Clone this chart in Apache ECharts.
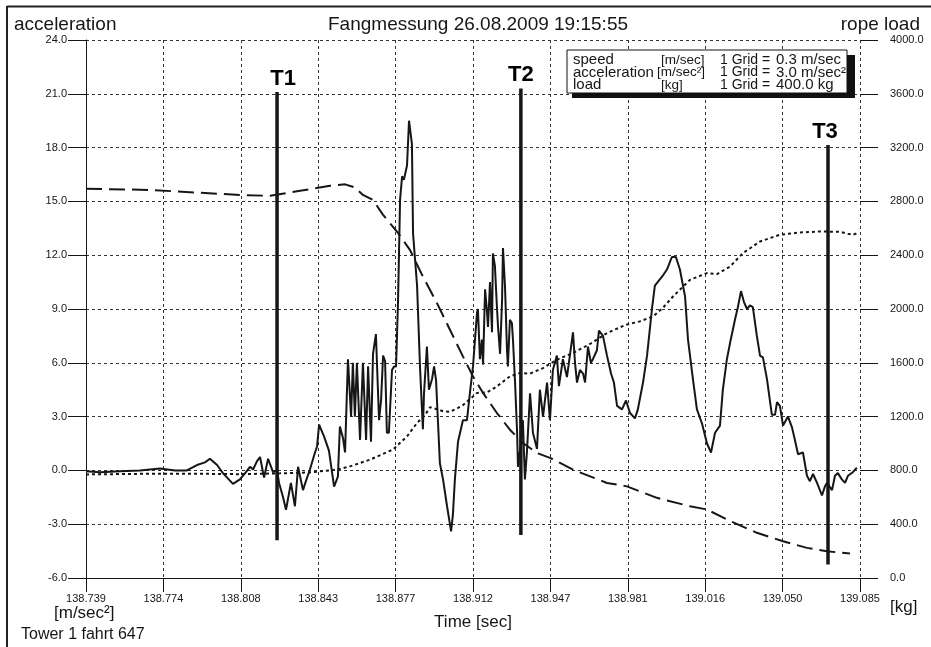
<!DOCTYPE html>
<html><head><meta charset="utf-8">
<script src="https://cdn.jsdelivr.net/npm/echarts@6/dist/echarts.min.js"></script>
<style>html,body{margin:0;padding:0;background:#fff}#c{width:931px;height:647px}</style>
</head><body><div id="c"></div>
<script>
// time offsets are milliseconds after T0 (seconds)
const T0 = 138.739;
const timeTickLabels = ['138.739','138.774','138.808','138.843','138.877','138.912','138.947','138.981','139.016','139.050','139.085'];
const accelTicks = [-6,-3,0,3,6,9,12,15,18,21,24];
const loadTicks = [0,400,800,1200,1600,2000,2400,2800,3200,3600,4000];

const accelMs = [0,6.3,15.2,24.1,33.1,39.8,45.1,49.6,53.2,55.4,58.6,61.2,65.7,68.8,71.5,73.3,74.7,76.4,77.8,79.6,81.4,83.6,85.4,86.3,88.1,89.4,91.6,93.4,94.8,97.0,98.3,100.1,101.9,103.3,104.2,106.4,108.6,110.9,112.6,113.5,114.9,115.8,117.1,118.5,119.3,120.2,121.1,122.5,123.8,125.2,126.1,127.4,128.3,129.6,131.0,131.9,132.8,133.7,134.5,135.4,136.8,137.7,138.6,139.5,140.4,141.3,142.1,143.5,144.4,145.7,146.2,148.0,149.3,150.6,151.1,152.4,153.3,154.7,155.6,156.5,156.9,158.2,159.6,161.4,163.2,164.0,164.9,166.3,168.5,170.3,171.6,173.0,174.8,175.2,176.1,177.0,177.5,178.4,179.3,179.7,180.6,181.5,181.9,182.8,183.7,184.2,185.1,186.0,186.4,187.3,188.2,188.6,189.5,190.4,190.9,191.8,192.7,193.1,194.4,195.3,196.2,197.1,198.5,199.8,201.6,202.9,204.3,206.1,207.4,208.7,210.5,211.4,213.2,215.0,216.3,217.7,218.6,219.5,220.8,222.2,223.1,224.4,225.7,226.6,228.4,229.3,231.1,232.9,234.7,236.0,237.4,239.6,241.4,243.2,245.4,246.7,249.0,250.8,253.0,254.3,257.5,259.7,261.9,263.7,265.5,267.8,269.1,271.3,273.1,275.4,277.6,279.4,281.2,283.4,284.7,286.5,287.9,290.1,291.4,292.8,294.1,295.5,296.8,298.1,299.9,301.3,302.6,304.4,306.6,308.0,308.9,310.2,311.6,313.8,315.6,316.9,318.3,320.5,322.3,323.6,325.0,326.8,329.0,330.3,331.2,333.5,334.8,336.1,337.9,339.3,340.6,342.8,344.6];
const accelValue = [-0.05,-0.1,-0.05,0.0,0.1,0.0,0.0,0.3,0.45,0.65,0.3,-0.15,-0.75,-0.5,-0.1,0.2,0.05,0.5,0.75,-0.4,0.65,-0.1,0.0,-0.7,-1.5,-2.2,-0.7,-2.0,0.2,-1.1,-0.6,0.05,0.8,1.35,2.55,1.9,1.1,-0.9,-0.35,2.45,1.8,1.0,6.2,3.0,6.0,3.0,6.0,1.7,6.0,1.7,5.8,1.6,6.5,7.6,2.8,3.9,6.4,6.1,2.1,2.1,5.6,5.8,5.8,9.5,15.1,16.4,16.2,17.0,19.5,18.2,13.2,10.3,5.8,2.3,4.3,6.9,4.5,5.1,5.8,5.0,3.9,0.4,-0.5,-2.0,-3.4,-2.5,-0.5,1.6,2.8,2.8,4.3,5.8,8.8,9.0,6.2,7.3,5.9,10.1,8.8,8.0,10.5,7.7,12.1,11.4,9.1,8.0,6.5,9.5,12.4,10.3,6.7,5.8,8.4,8.2,7.2,4.9,2.2,0.2,1.5,2.8,-0.5,1.0,4.3,2.1,1.2,4.5,3.0,4.9,2.8,5.6,6.4,4.7,6.2,5.2,6.4,7.7,6.0,4.9,5.6,5.4,4.9,6.9,6.0,6.2,6.7,7.8,7.5,6.4,5.4,4.9,3.6,3.4,3.9,3.2,2.9,3.4,4.9,6.4,9.0,10.3,10.8,11.2,11.9,11.9,11.2,9.7,7.3,5.1,3.4,2.6,1.5,1.0,2.1,2.5,4.5,6.2,7.1,8.4,9.1,10.0,9.4,9.0,9.2,9.1,7.5,6.4,6.3,5.1,3.1,3.1,3.8,3.6,2.5,3.0,2.4,1.7,0.9,1.0,-0.3,-0.6,-0.2,-0.7,-1.4,-0.9,-0.7,-1.1,-0.3,-0.15,-0.5,-0.7,-0.3,-0.1,0.15];

const speedMs = [0,28.6,51.0,68.8,82.3,95.7,109.1,115.8,120.2,123.8,128.3,132.8,139.0,144.8,150.6,156.9,162.7,168.5,173.0,177.5,183.7,189.5,195.3,201.6,207.4,211.9,217.7,232.9,241.8,255.2,270.0,277.6,286.5,299.9,311.6,322.3,331.2,341.5];
const speedValue = [2.170,2.164,2.148,2.136,2.131,2.159,2.187,2.195,2.178,2.136,2.108,2.025,1.932,1.830,1.681,1.533,1.384,1.236,1.124,1.032,0.920,0.827,0.753,0.697,0.670,0.642,0.604,0.530,0.511,0.447,0.400,0.382,0.326,0.252,0.205,0.168,0.149,0.136];

const loadMs = [0,28.6,51.0,68.8,86.7,100.1,112.2,118.0,127.0,137.2,143.5,148.0,151.5,153.8,156.9,159.6,162.7,166.3,168.5,174.8,179.3,183.7,189.5,194.0,198.5,204.3,210.5,217.7,225.3,232.9,240.9,247.6,253.5,258.0,262.4,270.0,277.6,282.1,287.9,293.7,301.3,310.2,319.1,328.1,337.0,340.6,342.8,345.1];
const loadValue = [770,775,775,772,778,785,806,830,880,955,1053,1153,1210,1270,1255,1240,1235,1265,1285,1376,1380,1425,1499,1524,1520,1561,1623,1673,1740,1821,1880,1908,1945,2010,2093,2217,2267,2260,2316,2416,2502,2552,2569,2576,2574,2560,2552,2565];

const markerNames = ['T1','T2','T3'];
const markerMs = [85.4,194.4,331.7];
const markerTop = [21.1,21.3,18.15];
const markerBottom = [-3.9,-3.6,-5.25];

const legendNames = ['speed','acceleration','load'];
const legendUnits = ['[m/sec]','[m/sec\u00B2]','[kg]'];
const legendGrid = ['0.3 m/sec','3.0 m/sec\u00B2','400.0 kg'];

// ---- styles ----
const INK = '#161616';
const SPAN = 346, STEP = 34.6;
const markerLabelDx = [6, 0, -3];
const gridDash = {color:'#333', width:1, type:[3,3]};
const FONT = 'Liberation Sans, Arial, sans-serif';

const zip = (a,b) => a.map((v,i)=>[v,b[i]]);

const markerSeries = markerNames.map((n,i)=>({
  type:'line', yAxisIndex:0, symbol:'none', silent:true, z:5,
  lineStyle:{color:INK, width:3.5},
  data:[[markerMs[i], markerBottom[i]], [markerMs[i], markerTop[i]]]
}));
const markerLabelSeries = {
  type:'scatter', yAxisIndex:0, symbol:'circle', symbolSize:0, silent:true, z:6,
  itemStyle:{color:INK, opacity:1},
  data:markerNames.map((n,i)=>({value:[markerMs[i], markerTop[i]], name:n,
    label:{offset:[markerLabelDx[i],0]}})),
  label:{show:true, position:'top', distance:2, formatter:p=>p.name,
    fontSize:22, fontWeight:'bold', color:'#000', opacity:1, fontFamily:FONT}
};

const chart = echarts.init(document.getElementById('c'), null, {renderer:'canvas'});
const legendY = [60, 72.5, 85];
const g = [
  {type:'line', shape:{x1:7,y1:6.5,x2:931,y2:6.5}, style:{stroke:'#222', lineWidth:2}},
  {type:'line', shape:{x1:7,y1:6,x2:7,y2:647}, style:{stroke:'#222', lineWidth:2}},
  {type:'text', style:{text:'acceleration', x:14, y:25, font:'19px '+FONT, fill:INK, textAlign:'left', textVerticalAlign:'middle'}},
  {type:'text', style:{text:'Fangmessung 26.08.2009 19:15:55', x:328, y:25, font:'19px '+FONT, fill:INK, textAlign:'left', textVerticalAlign:'middle'}},
  {type:'text', style:{text:'rope load', x:920, y:25, font:'19px '+FONT, fill:INK, textAlign:'right', textVerticalAlign:'middle'}},
  {type:'text', style:{text:'[m/sec\u00B2]', x:54, y:613, font:'17px '+FONT, fill:INK, textAlign:'left', textVerticalAlign:'middle'}},
  {type:'text', style:{text:'Tower 1 fahrt 647', x:21, y:635, font:'16px '+FONT, fill:INK, textAlign:'left', textVerticalAlign:'middle'}},
  {type:'text', style:{text:'Time [sec]', x:473, y:622, font:'17px '+FONT, fill:INK, textAlign:'center', textVerticalAlign:'middle'}},
  {type:'text', style:{text:'[kg]', x:890, y:607, font:'17px '+FONT, fill:INK, textAlign:'left', textVerticalAlign:'middle'}},
  {type:'rect', z:100, shape:{x:572,y:55,width:283,height:43}, style:{fill:'#111'}},
  {type:'rect', z:101, shape:{x:567,y:50,width:280,height:43}, style:{fill:'#fff', stroke:'#111', lineWidth:1}}
];
legendNames.forEach((n,i)=>{
  g.push({type:'text', z:102, style:{text:n, x:573, y:legendY[i], font:'15px '+FONT, fill:INK, textVerticalAlign:'middle'}});
  g.push({type:'text', z:102, style:{text:legendUnits[i], x:(i===1?657:661), y:legendY[i], font:'13.5px '+FONT, fill:INK, textVerticalAlign:'middle'}});
  g.push({type:'text', z:102, style:{text:'1 Grid =', x:720, y:legendY[i], font:'14px '+FONT, fill:INK, textVerticalAlign:'middle'}});
  g.push({type:'text', z:102, style:{text:legendGrid[i], x:776, y:legendY[i], font:'15px '+FONT, fill:INK, textVerticalAlign:'middle'}});
});

chart.setOption({
  animation:false,
  backgroundColor:'#fff',
  grid:{left:86, right:71, top:40, bottom:69},
  xAxis:{type:'value', min:0, max:SPAN, interval:STEP,
    axisLine:{show:true, onZero:false, lineStyle:{color:INK, width:1}},
    axisTick:{show:true, length:14, lineStyle:{color:INK}},
    axisLabel:{margin:15, fontSize:11, fontFamily:FONT, color:INK,
      formatter:v=>timeTickLabels[Math.round(v/STEP)] || ''},
    splitLine:{show:true, lineStyle:gridDash}},
  yAxis:[
    {type:'value', min:accelTicks[0], max:accelTicks[accelTicks.length-1], interval:3, position:'left',
      axisLine:{show:true, onZero:false, lineStyle:{color:INK, width:1}},
      axisTick:{show:true, length:18, lineStyle:{color:INK}},
      axisLabel:{margin:19, fontSize:11, fontFamily:FONT, color:INK, formatter:v=>v.toFixed(1)},
      splitLine:{show:true, lineStyle:gridDash}},
    {type:'value', min:loadTicks[0], max:loadTicks[loadTicks.length-1], interval:400, position:'right',
      axisLine:{show:false, onZero:false},
      axisTick:{show:true, length:18, lineStyle:{color:INK}},
      axisLabel:{margin:30, fontSize:11, fontFamily:FONT, color:INK, formatter:v=>v.toFixed(1)},
      splitLine:{show:false}},
    {type:'value', min:0, max:3, show:false}
  ],
  graphic:g,
  series:[
    {name:'load', type:'line', yAxisIndex:1, symbol:'none', z:3,
      lineStyle:{color:INK, width:2, type:[3,3]}, data:zip(loadMs, loadValue)},
    {name:'speed', type:'line', yAxisIndex:2, symbol:'none', z:3,
      lineStyle:{color:INK, width:2, type:[16,7]}, data:zip(speedMs, speedValue)},
    {name:'acceleration', type:'line', yAxisIndex:0, symbol:'none', z:4,
      lineStyle:{color:INK, width:2}, data:zip(accelMs, accelValue)},
    ...markerSeries,
    markerLabelSeries
  ]
});
</script></body></html>
